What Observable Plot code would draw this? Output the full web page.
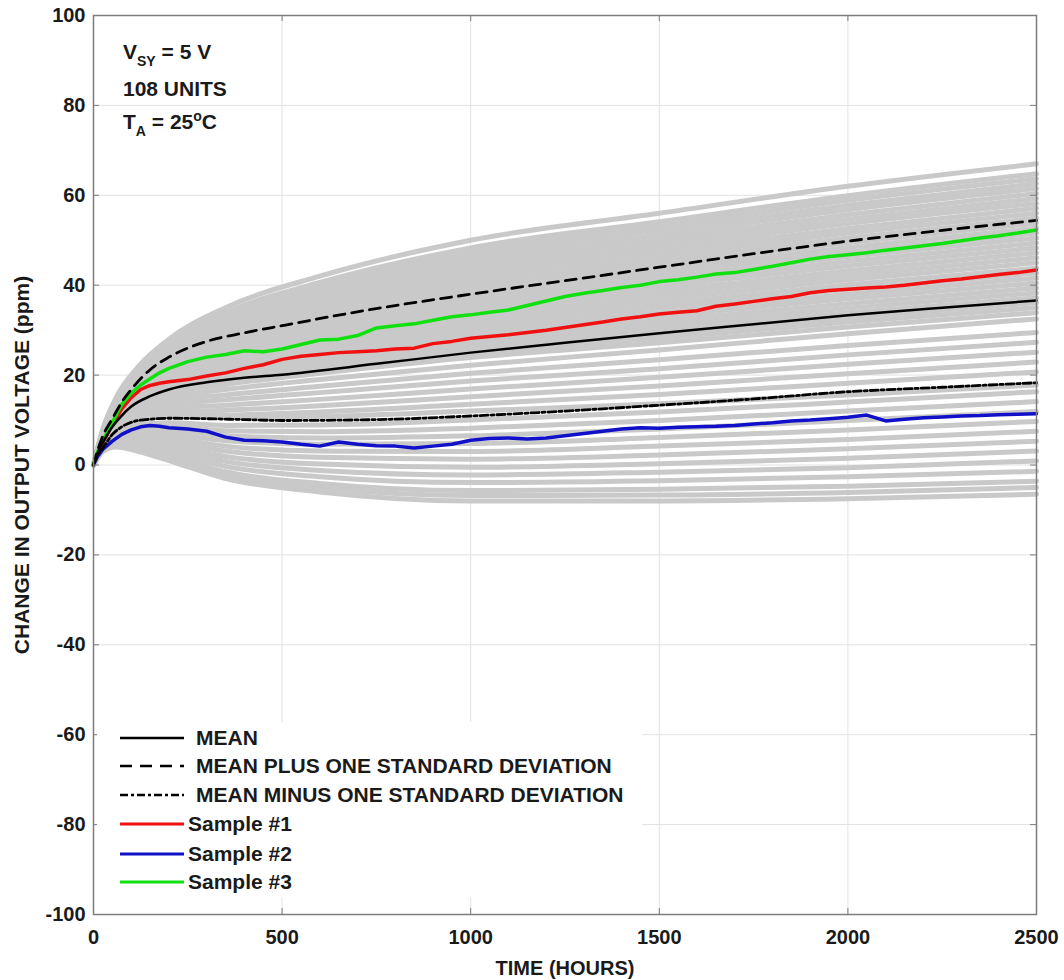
<!DOCTYPE html>
<html><head><meta charset="utf-8">
<script src="https://cdn.jsdelivr.net/npm/d3@7"></script>
<script src="https://cdn.jsdelivr.net/npm/@observablehq/plot@0.6"></script>
<style>
body{margin:0;background:#fff;}
#wrap{position:relative;width:1064px;height:980px;font-family:"Liberation Sans",Arial,sans-serif;font-weight:bold;color:#1a1a1a;}
#wrap svg{position:absolute;left:0;top:0;}
.note{position:absolute;left:123px;font-size:21px;line-height:20px;white-space:nowrap;}
.sub{font-size:14px;position:relative;top:7px;}
.sup{font-size:14px;position:relative;top:-8px;}
#legend{position:absolute;left:97px;top:722px;width:545px;height:175px;background:#fff;}
.row{position:absolute;height:28px;line-height:28px;font-size:21px;white-space:nowrap;}
.sw{position:absolute;width:64px;height:28px;}
</style></head>
<body><div id="wrap"></div>
<script>
// ---- axis ticks ----
const xTicks = [0, 500, 1000, 1500, 2000, 2500];
const yTicks = [-100, -80, -60, -40, -20, 0, 20, 40, 60, 80, 100];
const xTitle = "TIME (HOURS)";
const yTitle = "CHANGE IN OUTPUT VOLTAGE (ppm)";

// ---- mean and +/- one standard deviation ----
const statTimes = [0, 10, 25, 50, 75, 100, 150, 200, 300, 400, 500, 750, 1000, 1250, 1500, 1750, 2000, 2250, 2500];
const meanVals  = [0, 2.5, 5, 8.5, 11, 13, 15.3, 16.8, 18.4, 19.4, 20.1, 22.5, 25, 27.2, 29.3, 31.3, 33.3, 35, 36.6];
const plusVals  = [0, 3, 6.5, 10.3, 14, 16.8, 21.2, 24, 27.5, 29.4, 31, 34.8, 38, 41, 44, 47, 49.8, 52.2, 54.4];
const minusVals = [0, 2, 3.8, 6.8, 8.5, 9.5, 10.2, 10.4, 10.3, 10.1, 9.9, 10.1, 10.9, 12, 13.3, 14.7, 16.3, 17.3, 18.3];

// ---- samples ----
const sampleTimes = [0, 10, 25, 50, 75, 100, 125, 150, 175, 200, 250, 300, 350, 400, 450, 500, 550, 600, 650, 700, 750, 800, 850, 900, 950, 1000, 1050, 1100, 1150, 1200, 1250, 1300, 1350, 1400, 1450, 1500, 1550, 1600, 1650, 1700, 1750, 1800, 1850, 1900, 1950, 2000, 2050, 2100, 2150, 2200, 2250, 2300, 2350, 2400, 2450, 2500];
const sample1 = [0, 2.5, 5, 9, 12.5, 15, 16.8, 17.7, 18.2, 18.5, 19, 19.8, 20.5, 21.5, 22.3, 23.5, 24.2, 24.6, 25, 25.2, 25.4, 25.8, 26, 27, 27.5, 28.2, 28.6, 29, 29.5, 30, 30.6, 31.2, 31.8, 32.5, 33, 33.6, 34, 34.3, 35.3, 35.8, 36.4, 37, 37.5, 38.3, 38.8, 39.1, 39.4, 39.6, 40, 40.5, 41, 41.4, 41.9, 42.4, 42.8, 43.4];
const sample2 = [0, 1.8, 3.5, 5.3, 6.8, 7.8, 8.5, 8.8, 8.6, 8.3, 8, 7.5, 6.2, 5.5, 5.4, 5.1, 4.6, 4.2, 5.1, 4.6, 4.3, 4.2, 3.8, 4.2, 4.6, 5.5, 5.9, 6, 5.8, 6, 6.5, 7, 7.5, 8, 8.3, 8.2, 8.4, 8.5, 8.6, 8.8, 9.1, 9.4, 9.8, 10, 10.3, 10.6, 11.1, 9.8, 10.2, 10.5, 10.7, 10.9, 11, 11.2, 11.3, 11.4];
const sample3 = [0, 2.8, 5.5, 9.5, 13.5, 16, 17.8, 19.2, 20.5, 21.5, 23, 24, 24.6, 25.4, 25.2, 25.8, 26.8, 27.8, 28, 28.8, 30.5, 31, 31.4, 32.2, 33, 33.4, 34, 34.5, 35.5, 36.5, 37.5, 38.2, 38.8, 39.5, 40, 40.8, 41.2, 41.8, 42.5, 42.8, 43.5, 44.2, 45, 45.8, 46.4, 46.8, 47.2, 47.8, 48.3, 48.8, 49.3, 49.9, 50.5, 51, 51.6, 52.3];

// ---- individual units (gray) ----
const grayTimes = [0, 25, 60, 120, 200, 350, 600, 1000, 1500, 2000, 2500];
const grayUnits = [
  [0, 8, 15, 22, 28, 35, 42, 50, 56, 62, 67],
  [0, 7.9, 14.7, 21.4, 27.2, 33.9, 40.6, 48.3, 54.1, 59.9, 64.8],
  [0, 7.8, 14.5, 21.1, 26.8, 33.3, 39.8, 47.4, 53.1, 58.9, 63.7],
  [0, 7.7, 14.3, 20.9, 26.4, 32.7, 39.1, 46.5, 52.2, 57.8, 62.6],
  [0, 7.6, 14.2, 20.6, 26, 32.2, 38.4, 45.7, 51.2, 56.8, 61.5],
  [0, 7.6, 14, 20.3, 25.6, 31.6, 37.7, 44.8, 50.2, 55.7, 60.4],
  [0, 7.5, 13.8, 20, 25.2, 31, 37, 43.9, 49.3, 54.7, 59.3],
  [0, 7.4, 13.7, 19.7, 24.8, 30.4, 36.2, 43, 48.3, 53.7, 58.2],
  [0, 7.3, 13.5, 19.4, 24.4, 29.9, 35.5, 42.2, 47.4, 52.6, 57.1],
  [0, 7.3, 13.4, 19.2, 24, 29.3, 34.8, 41.3, 46.4, 51.6, 56],
  [0, 7.2, 13.2, 18.9, 23.5, 28.7, 34.1, 40.4, 45.4, 50.5, 54.9],
  [0, 7.1, 13, 18.6, 23.1, 28.2, 33.4, 39.6, 44.5, 49.5, 53.8],
  [0, 7, 12.9, 18.3, 22.7, 27.6, 32.6, 38.7, 43.5, 48.4, 52.7],
  [0, 7, 12.7, 18, 22.3, 27, 31.9, 37.8, 42.6, 47.4, 51.6],
  [0, 6.9, 12.5, 17.7, 21.9, 26.5, 31.2, 37, 41.6, 46.4, 50.5],
  [0, 6.8, 12.4, 17.4, 21.5, 25.9, 30.5, 36.1, 40.6, 45.3, 49.4],
  [0, 6.7, 12.2, 17.2, 21.1, 25.3, 29.8, 35.2, 39.7, 44.3, 48.3],
  [0, 6.7, 12, 16.9, 20.7, 24.7, 29, 34.3, 38.7, 43.2, 47.2],
  [0, 6.6, 11.9, 16.6, 20.3, 24.2, 28.3, 33.5, 37.8, 42.2, 46.1],
  [0, 6.5, 11.7, 16.3, 19.9, 23.6, 27.6, 32.6, 36.8, 41.2, 45],
  [0, 6.4, 11.5, 16, 19.5, 23, 26.9, 31.7, 35.8, 40.1, 43.8],
  [0, 6.4, 11.4, 15.7, 19.1, 22.5, 26.2, 30.9, 34.9, 39.1, 42.7],
  [0, 6.3, 11.2, 15.4, 18.7, 21.9, 25.4, 30, 33.9, 38, 41.6],
  [0, 6.2, 11, 15.2, 18.3, 21.3, 24.7, 29.1, 33, 37, 40.5],
  [0, 6.1, 10.9, 14.9, 17.9, 20.8, 24, 28.3, 32, 35.9, 39.4],
  [0, 6.1, 10.7, 14.6, 17.5, 20.2, 23.3, 27.4, 31, 34.9, 38.3],
  [0, 6, 10.5, 14.3, 17.1, 19.6, 22.6, 26.5, 30.1, 33.9, 37.2],
  [0, 5.9, 10.4, 14, 16.7, 19, 21.8, 25.6, 29.1, 32.8, 36.1],
  [0, 5.8, 10.2, 13.7, 16.3, 18.5, 21.1, 24.8, 28.2, 31.8, 35],
  [0, 5.8, 10.1, 13.5, 15.9, 17.9, 20.4, 23.9, 27.2, 30.7, 33.9],
  [0, 5.6, 9.7, 12.9, 15, 16.8, 19, 22.2, 25.6, 29.2, 32.5],
  [0, 5.5, 9.4, 12.3, 14.2, 15.6, 17.5, 20.4, 23.4, 26.6, 29.5],
  [0, 5.3, 9.1, 11.7, 13.4, 14.5, 16.1, 18.7, 21.4, 24.5, 27.3],
  [0, 5.2, 8.7, 11.2, 12.6, 13.3, 14.6, 16.9, 19.5, 22.4, 25.1],
  [0, 5, 8.4, 10.6, 11.8, 12.2, 13.2, 15.2, 17.6, 20.3, 22.9],
  [0, 4.9, 8.1, 10, 11, 11.1, 11.8, 13.5, 15.7, 18.2, 20.7],
  [0, 4.7, 7.9, 9.9, 10.8, 10.6, 10.8, 12, 13.6, 15.6, 17.8],
  [0, 4.6, 7.4, 8.9, 9.4, 8.8, 8.9, 10, 11.8, 14, 16.3],
  [0, 4.4, 7.1, 8.3, 8.6, 7.6, 7.4, 8.2, 9.9, 12, 14.1],
  [0, 4.3, 6.8, 7.8, 7.8, 6.5, 6, 6.5, 8, 9.9, 11.9],
  [0, 4.1, 6.4, 7.2, 6.9, 5.4, 4.6, 4.8, 6.1, 7.8, 9.7],
  [0, 4, 6.1, 6.6, 6.1, 4.2, 3.1, 3, 4.2, 5.7, 7.5],
  [0, 3.8, 5.8, 6, 5.3, 3.1, 1.7, 1.3, 2.2, 3.6, 5.3],
  [0, 3.7, 5.4, 5.5, 4.5, 1.9, 0.2, -0.5, 0.3, 1.5, 3.1],
  [0, 3.5, 5.1, 4.9, 3.7, 0.8, -1.2, -2.2, -1.6, -0.6, 0.9],
  [0, 3.4, 4.8, 4.3, 2.9, -0.3, -2.6, -3.9, -3.5, -2.6, -1.4],
  [0, 3.2, 4.4, 3.8, 2.1, -1.5, -4.1, -5.7, -5.4, -4.7, -3.6],
  [0, 3.1, 4.2, 3.4, 1.5, -2.2, -5, -6.8, -6.7, -6.1, -5],
  [0, 3, 4, 3, 1, -3, -6, -8, -8, -7.5, -6.5]
];

// ---- legend ----
const legendItems = [
  {label: "MEAN", color: "#000", dash: null, width: 2.5, textX: 196},
  {label: "MEAN PLUS ONE STANDARD DEVIATION", color: "#000", dash: "12,8", width: 2.5, textX: 196},
  {label: "MEAN MINUS ONE STANDARD DEVIATION", color: "#000", dash: "8,3,3,3", width: 2.5, textX: 196},
  {label: "Sample #1", color: "#f01010", dash: null, width: 3, textX: 188},
  {label: "Sample #2", color: "#1010c8", dash: null, width: 3, textX: 188},
  {label: "Sample #3", color: "#10e010", dash: null, width: 3, textX: 188}
];

// ---- tables for the library ----
const series = (ts, vs) => ts.map((t, i) => ({t, v: vs[i]}));
const grayData = grayUnits.flatMap((row, id) => row.map((v, j) => ({id, t: grayTimes[j], v})));

const W = 1064, H = 980, ML = 93, MR = 28, MT = 15, MB = 66;
const PW = W - ML - MR, PH = H - MT - MB;
const axisColor = "#7d7d7d";
const textColor = "#1a1a1a";
const font = "'Liberation Sans', Arial, sans-serif";

const chart = Plot.plot({
  width: W, height: H,
  marginLeft: ML, marginRight: MR, marginTop: MT, marginBottom: MB,
  x: {domain: [0, 2500]},
  y: {domain: [-100, 100]},
  style: {fontFamily: font, fontWeight: "bold", fontSize: "20px", color: textColor, background: "#fff"},
  marks: [
    Plot.gridX(xTicks, {stroke: "#e2e2e2", strokeOpacity: 1}),
    Plot.gridY(yTicks, {stroke: "#e2e2e2", strokeOpacity: 1}),
    Plot.line(grayData, {x: "t", y: "v", z: "id", stroke: "#c9c9c9", strokeWidth: 5, curve: "monotone-x"}),
    Plot.line(series(sampleTimes, sample1), {x: "t", y: "v", stroke: "#f01010", strokeWidth: 3.5}),
    Plot.line(series(sampleTimes, sample2), {x: "t", y: "v", stroke: "#1010c8", strokeWidth: 3.5}),
    Plot.line(series(sampleTimes, sample3), {x: "t", y: "v", stroke: "#10e010", strokeWidth: 3.5}),
    Plot.line(series(statTimes, minusVals), {x: "t", y: "v", stroke: "#000", strokeWidth: 2.8, strokeDasharray: "8,3,3,3", curve: "monotone-x"}),
    Plot.line(series(statTimes, plusVals), {x: "t", y: "v", stroke: "#000", strokeWidth: 2.8, strokeDasharray: "11,7", curve: "monotone-x"}),
    Plot.line(series(statTimes, meanVals), {x: "t", y: "v", stroke: "#000", strokeWidth: 2.5, curve: "monotone-x"}),
    Plot.tickX(xTicks, {x: d => d, insetTop: PH - 6, stroke: axisColor}),
    Plot.tickX(xTicks, {x: d => d, insetBottom: PH - 6, stroke: axisColor}),
    Plot.tickY(yTicks, {y: d => d, insetRight: PW - 6, stroke: axisColor}),
    Plot.tickY(yTicks, {y: d => d, insetLeft: PW - 6, stroke: axisColor}),
    Plot.axisX(xTicks, {tickSize: 0, tickPadding: 15, tickFormat: d => String(d), fontSize: 20, fontWeight: "bold", fill: textColor, label: null}),
    Plot.axisY(yTicks, {tickSize: 0, tickPadding: 8, tickFormat: d => String(d), fontSize: 20, fontWeight: "bold", fill: textColor, label: null}),
    Plot.text([xTitle], {frameAnchor: "bottom", dy: 54, lineAnchor: "middle", textAnchor: "middle", text: d => d, fontSize: 20, fontWeight: "bold", fill: textColor}),
    Plot.text([yTitle], {frameAnchor: "left", dx: -71, rotate: -90, textAnchor: "middle", lineAnchor: "middle", text: d => d, fontSize: 21, fontWeight: "bold", fill: textColor}),
    Plot.frame({stroke: axisColor, strokeWidth: 1.5})
  ]
});

const wrap = document.getElementById("wrap");
wrap.appendChild(chart);

// annotation (top-left)
const notes = [
  {top: 42, html: 'V<span class="sub">SY</span> = 5 V'},
  {top: 79, html: '108 UNITS'},
  {top: 112, html: 'T<span class="sub">A</span> = 25<span class="sup">o</span>C'}
];
for (const n of notes) {
  const d = document.createElement("div");
  d.className = "note";
  d.style.top = n.top + "px";
  d.innerHTML = n.html;
  wrap.appendChild(d);
}

// legend (inside plot, bottom-left)
const leg = document.createElement("div");
leg.id = "legend";
wrap.appendChild(leg);
const rowCenters = [738, 766, 795, 824, 854, 882];
legendItems.forEach((it, i) => {
  const cy = rowCenters[i] - 722;
  const sw = document.createElementNS("http://www.w3.org/2000/svg", "svg");
  sw.setAttribute("class", "sw");
  sw.setAttribute("width", 64); sw.setAttribute("height", 28);
  sw.style.left = (120 - 97) + "px";
  sw.style.top = (cy - 14) + "px";
  const ln = document.createElementNS("http://www.w3.org/2000/svg", "line");
  ln.setAttribute("x1", 0); ln.setAttribute("x2", 64);
  ln.setAttribute("y1", 14); ln.setAttribute("y2", 14);
  ln.setAttribute("stroke", it.color);
  ln.setAttribute("stroke-width", it.width);
  if (it.dash) ln.setAttribute("stroke-dasharray", it.dash);
  sw.appendChild(ln);
  leg.appendChild(sw);
  const tx = document.createElement("div");
  tx.className = "row";
  tx.style.left = (it.textX - 97) + "px";
  tx.style.top = (cy - 14) + "px";
  tx.textContent = it.label;
  leg.appendChild(tx);
});
</script>
</body></html>
